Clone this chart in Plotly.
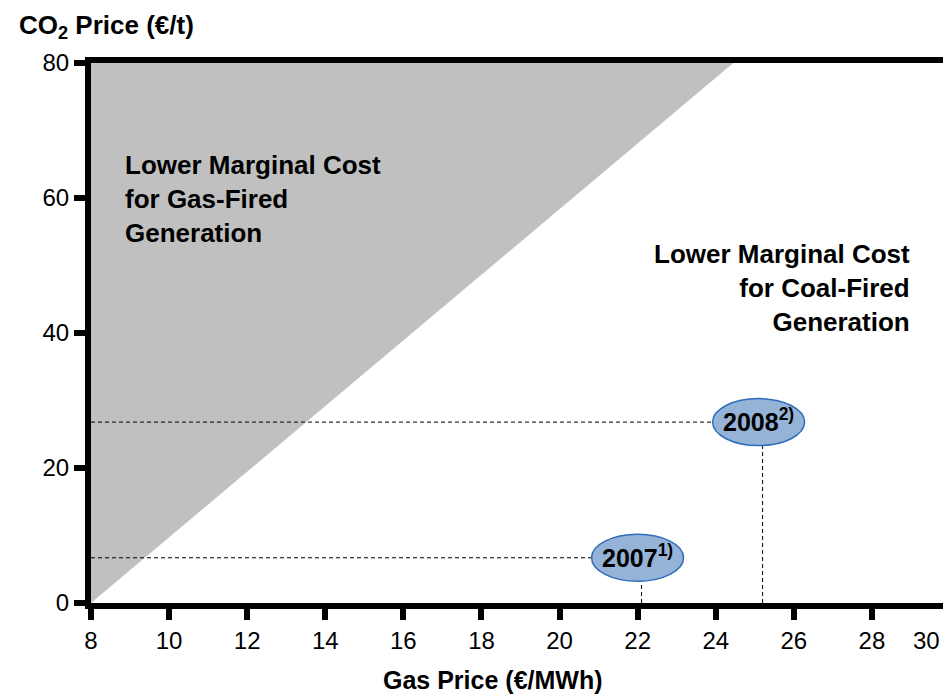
import plotly.graph_objects as go

# ---------------- data ----------------
x_tick_vals = [8, 10, 12, 14, 16, 18, 20, 22, 24, 26, 28]
x_tick_text = ["8", "10", "12", "14", "16", "18", "20", "22", "24", "26", "28"]
extra_x_label = "30"
extra_x_label_pos = 29.40

y_tick_vals = [0, 20, 40, 60, 80]
y_tick_text = ["0", "20", "40", "60", "80"]

# fuel-switch (break-even) line: gas price vs CO2 price
breakeven_gas = [8.0, 24.45]
breakeven_co2 = [0.0, 80.0]

years = ["2007", "2008"]
year_notes = ["1)", "2)"]
year_gas = [22.1, 25.2]
year_co2 = [6.7, 26.8]

X_RANGE = [8, 29.82]
Y_RANGE = [0, 80]

FONT = "Liberation Sans, Arial, sans-serif"

fig = go.Figure()

# gas-favoured area (upper-left of break-even line)
fig.add_trace(go.Scatter(
    x=breakeven_gas + [breakeven_gas[0]],
    y=breakeven_co2 + [Y_RANGE[1]],
    fill="toself", fillcolor="#C0C0C0", mode="none",
    hoverinfo="skip", showlegend=False,
))

# dashed reference lines for each year
for g, c in zip(year_gas, year_co2):
    fig.add_trace(go.Scatter(
        x=[X_RANGE[0], g], y=[c, c], mode="lines",
        line=dict(color="black", width=1, dash="4px,3px"),
        hoverinfo="skip", showlegend=False,
    ))
    fig.add_trace(go.Scatter(
        x=[g, g], y=[Y_RANGE[0], c], mode="lines",
        line=dict(color="black", width=1, dash="4px,3px"),
        hoverinfo="skip", showlegend=False,
    ))

shapes = []
annotations = []
for yr, note, g, c in zip(years, year_notes, year_gas, year_co2):
    shapes.append(dict(
        type="circle", xref="x", yref="y",
        xsizemode="pixel", ysizemode="pixel",
        xanchor=g, yanchor=c,
        x0=-50, x1=42, y0=-23.5, y1=23.5,
        fillcolor="#95B3D7", line=dict(color="#2F6EBA", width=1.5),
        layer="above",
    ))
    annotations.append(dict(
        x=g, y=c, xref="x", yref="y", showarrow=False,
        text=f"<b>{yr}<sup>{note}</sup></b>",
        font=dict(family=FONT, size=25, color="black"),
        xanchor="center", yanchor="middle", xshift=-4, yshift=2,
    ))

annotations += [
    dict(x=8.82, y=59.8, xref="x", yref="y", showarrow=False,
         text="<b>Lower Marginal Cost<br>for Gas-Fired<br>Generation</b>",
         align="left", xanchor="left", yanchor="middle",
         font=dict(family=FONT, size=26, color="black")),
    dict(x=29.02, y=46.6, xref="x", yref="y", showarrow=False,
         text="<b>Lower Marginal Cost<br>for Coal-Fired<br>Generation</b>",
         align="right", xanchor="right", yanchor="middle",
         font=dict(family=FONT, size=26, color="black")),
    dict(x=0, y=1, xref="paper", yref="paper", showarrow=False,
         text="<b>CO<sub>2</sub> Price (€/t)</b>",
         xanchor="left", yanchor="middle", xshift=-74, yshift=37,
         font=dict(family=FONT, size=26, color="black")),
    dict(x=0.472, y=0, xref="paper", yref="paper", showarrow=False,
         text="<b>Gas Price (€/MWh)</b>",
         xanchor="center", yanchor="bottom", yshift=-93,
         font=dict(family=FONT, size=25, color="black")),
    dict(x=extra_x_label_pos, y=0, xref="x", yref="paper", showarrow=False,
         text=extra_x_label, xanchor="center", yanchor="top", yshift=-22,
         font=dict(family=FONT, size=24, color="black")),
]

fig.update_layout(
    width=943, height=696,
    margin=dict(l=91, r=0, t=63, b=93, autoexpand=False),
    paper_bgcolor="white", plot_bgcolor="white",
    font=dict(family=FONT, size=24, color="black"),
    shapes=shapes, annotations=annotations,
    showlegend=False,
)
fig.update_xaxes(
    range=X_RANGE, tickvals=x_tick_vals, ticktext=x_tick_text,
    showline=True, linewidth=6, linecolor="black", mirror=True,
    ticks="outside", ticklen=11, tickwidth=6, tickcolor="black",
    showgrid=False, zeroline=False,
    tickfont=dict(family=FONT, size=24, color="black"),
)
fig.update_yaxes(
    range=Y_RANGE, tickvals=y_tick_vals, ticktext=y_tick_text,
    showline=True, linewidth=6, linecolor="black",
    ticks="outside", ticklen=11, tickwidth=6, tickcolor="black",
    showgrid=False, zeroline=False,
    tickfont=dict(family=FONT, size=24, color="black"),
)

fig.write_html("out.html", config={"displayModeBar": False},
               post_script="document.body.style.margin='0';")
